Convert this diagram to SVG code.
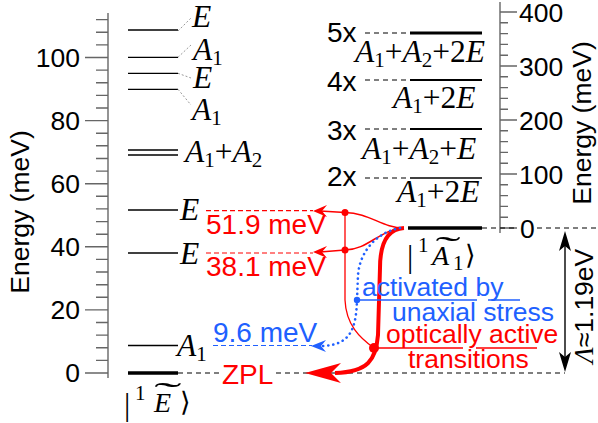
<svg xmlns="http://www.w3.org/2000/svg" width="598" height="423" viewBox="0 0 598 423">
<style>
.ax{stroke:#666;stroke-width:1.4;fill:none}
.lv{stroke:#000;stroke-width:1.3;fill:none}
.gd{stroke:#999;stroke-width:1;stroke-dasharray:2 2;fill:none}
.bd{stroke:#000;stroke-width:1.2;stroke-dasharray:5 4;fill:none}
.rd{stroke:#f00;stroke-width:1.2;stroke-dasharray:5 3;fill:none}
.bld{stroke:#2060ff;stroke-width:1.2;stroke-dasharray:5 3;fill:none}
.t{font-family:"Liberation Sans",Arial,sans-serif;font-size:26.5px;fill:#000}
.v{font-size:28px}
.r{fill:#f00}
.b{fill:#2060ff}
.m{font-family:"Liberation Serif","Times New Roman",serif;font-size:31.5px;fill:#000}
.i{font-style:italic}
.s{font-size:21px;font-style:normal}
.k{font-size:28px}
</style>
<g id="left-axis">
<path class="ax" d="M108,13V378"/>
<path class="ax" d="M85,373H108M96,360.4H108M96,347.8H108M96,335.1H108M96,322.5H108M85,309.9H108M96,297.3H108M96,284.7H108M96,272H108M96,259.4H108M85,246.8H108M96,234.2H108M96,221.6H108M96,208.9H108M96,196.3H108M85,183.7H108M96,171.1H108M96,158.5H108M96,145.8H108M96,133.2H108M85,120.6H108M96,108H108M96,95.4H108M96,82.7H108M96,70.1H108M85,57.5H108M96,44.9H108M96,32.3H108M96,19.6H108"/>
<g class="t" text-anchor="end">
<text x="80" y="66.5">100</text>
<text x="80" y="129.6">80</text>
<text x="80" y="192.7">60</text>
<text x="80" y="255.8">40</text>
<text x="80" y="318.9">20</text>
<text x="80" y="382">0</text>
</g>
<text class="t" text-anchor="middle" transform="translate(29,212) rotate(-90)">Energy (meV)</text>
</g>
<g id="right-axis">
<path class="ax" d="M500,2V233"/>
<path class="ax" d="M500,228H517M500,217.2H508M500,206.4H508M500,195.6H508M500,184.8H508M500,174H517M500,163.2H508M500,152.4H508M500,141.6H508M500,130.8H508M500,120H517M500,109.2H508M500,98.4H508M500,87.6H508M500,76.8H508M500,66H517M500,55.2H508M500,44.4H508M500,33.6H508M500,22.8H508M500,12H517"/>
<g class="t">
<text x="519" y="21.5">400</text>
<text x="519" y="75.5">300</text>
<text x="519" y="129.5">200</text>
<text x="519" y="183.5">100</text>
<text x="520" y="237.5">0</text>
</g>
<text class="t" text-anchor="middle" transform="translate(591,123) rotate(-90)">Energy (meV)</text>
</g>
<g id="ground-E">
<path d="M128,373H178" stroke="#000" stroke-width="3.5"/>
<text class="m" x="124" y="415" font-size="33">|</text>
<text class="m s" x="135" y="400">1</text>
<text class="m i k" x="154" y="412">E</text>
<text class="m" font-size="28" text-anchor="middle" transform="translate(168,404) scale(2.6,1)">˜</text>
<text x="180" y="411" font-family="DejaVu Serif,serif" font-size="27">⟩</text>
</g>
<g id="level-A1-9">
<path class="lv" d="M128,345.5H178"/>
<text class="m" x="177" y="356"><tspan class="i">A</tspan><tspan class="s" dy="5">1</tspan></text>
</g>
<g id="level-E-38">
<path class="lv" d="M128,253H178"/>
<text class="m i" x="180" y="264">E</text>
</g>
<g id="level-E-52">
<path class="lv" d="M128,210H178"/>
<text class="m i" x="180" y="220">E</text>
</g>
<g id="level-A1A2">
<path class="lv" d="M128,150H178M128,155H178"/>
<text class="m" x="185" y="162"><tspan class="i">A</tspan><tspan class="s" dy="5">1</tspan><tspan dy="-5">+</tspan><tspan class="i">A</tspan><tspan class="s" dy="5">2</tspan></text>
</g>
<g id="level-A1-90">
<path class="lv" d="M128,89.3H178"/>
<path class="gd" d="M178,89.3L191,105"/>
<text class="m" x="192" y="120"><tspan class="i">A</tspan><tspan class="s" dy="5">1</tspan></text>
</g>
<g id="level-E-95">
<path class="lv" d="M128,73.3H178"/>
<path class="gd" d="M178,73.3L191,78"/>
<text class="m i" x="193" y="88">E</text>
</g>
<g id="level-A1-100">
<path class="lv" d="M128,57.3H178"/>
<path class="gd" d="M178,57.3L191,45"/>
<text class="m" x="193" y="60"><tspan class="i">A</tspan><tspan class="s" dy="5">1</tspan></text>
</g>
<g id="level-E-109">
<path class="lv" d="M128,30H178"/>
<path class="gd" d="M178,31L191,18"/>
<text class="m i" x="192" y="27">E</text>
</g>
<g id="excited-A1">
<path d="M408,228H482" stroke="#000" stroke-width="3.5"/>
<text class="m" x="407" y="267" font-size="33">|</text>
<text class="m s" x="418" y="252">1</text>
<text class="m i k" x="432" y="265">A</text>
<text class="m" font-size="28" text-anchor="middle" transform="translate(448,258) scale(2.4,1)">˜</text>
<text class="m s" x="453" y="270">1</text>
<text x="465" y="264" font-family="DejaVu Serif,serif" font-size="27">⟩</text>
</g>
<g id="level-5x">
<path class="bd" d="M365,33H410"/>
<path d="M410,33H482" stroke="#000" stroke-width="3"/>
<text class="t v" x="327" y="42">5x</text>
<text class="m" x="355" y="62"><tspan class="i">A</tspan><tspan class="s" dy="5">1</tspan><tspan dy="-5">+</tspan><tspan class="i">A</tspan><tspan class="s" dy="5">2</tspan><tspan dy="-5">+2</tspan><tspan class="i">E</tspan></text>
</g>
<g id="level-4x">
<path class="bd" d="M365,80H410"/>
<path d="M410,80H482" stroke="#000" stroke-width="2"/>
<text class="t v" x="327" y="91">4x</text>
<text class="m" x="393" y="108"><tspan class="i">A</tspan><tspan class="s" dy="5">1</tspan><tspan dy="-5">+2</tspan><tspan class="i">E</tspan></text>
</g>
<g id="level-3x">
<path class="bd" d="M365,129H410"/>
<path d="M410,129H482" stroke="#000" stroke-width="2"/>
<text class="t v" x="327" y="140">3x</text>
<text class="m" x="362" y="159"><tspan class="i">A</tspan><tspan class="s" dy="5">1</tspan><tspan dy="-5">+</tspan><tspan class="i">A</tspan><tspan class="s" dy="5">2</tspan><tspan dy="-5">+</tspan><tspan class="i">E</tspan></text>
</g>
<g id="level-2x">
<path class="bd" d="M365,178H410"/>
<path d="M410,178H482" stroke="#000" stroke-width="1.5"/>
<text class="t v" x="327" y="186">2x</text>
<text class="m" x="397" y="202"><tspan class="i">A</tspan><tspan class="s" dy="5">1</tspan><tspan dy="-5">+2</tspan><tspan class="i">E</tspan></text>
</g>
<g id="connectors">
<path class="bd" d="M482,228H516M537,228H598"/>
<path class="bd" d="M178,373H221M276,373H565"/>
<path d="M565,240V362" stroke="#000" stroke-width="1.4"/>
<path d="M565,231L571,251L565,246L559,251Z" fill="#000"/>
<path d="M565,372L571,352L565,357L559,352Z" fill="#000"/>
<text class="t" text-anchor="middle" transform="translate(593,306) rotate(-90)"><tspan font-family="Liberation Serif,serif" font-style="italic">Λ</tspan>≈1.19eV</text>
<path class="rd" d="M206,210.7H313M206,253H313"/>
<path class="bld" d="M213,345.5H312"/>
<path d="M404,228C382,228 370,213 345,212.5L320,211" stroke="#f00" stroke-width="1.5" fill="none"/>
<path d="M404,228C380,229 368,250 345,250L320,252" stroke="#f00" stroke-width="1.5" fill="none"/>
<path d="M313,211L327,205L322,211L327,217Z" fill="#f00"/>
<path d="M313,252L327,246L322,252L327,258Z" fill="#f00"/>
<path d="M345,212.5V300C346,325 360,338 374,348" stroke="#f00" stroke-width="1.3" fill="none"/>
<path d="M404,228C386,229 380,245 380,268L378,335C376,360 368,372 335,373" stroke="#f00" stroke-width="4" fill="none"/>
<path d="M305,373L341,363L331,373L341,383Z" fill="#f00"/>
<circle cx="345" cy="212.5" r="3.5" fill="#f00"/>
<circle cx="345" cy="250" r="3.5" fill="#f00"/>
<circle cx="374" cy="348" r="5" fill="#f00"/>
<path d="M400,228C378,232 360,250 358,275L357,300C356,330 350,345 322,346" stroke="#2060ff" stroke-width="2.6" stroke-linecap="round" stroke-dasharray="0.1 5" fill="none"/>
<path d="M311,346L326,340L321,346L326,352Z" fill="#2060ff"/>
<circle cx="357" cy="300" r="3.2" fill="#2060ff"/>
<path d="M357,300H477M488,300H520" stroke="#2060ff" stroke-width="1.5"/>
<path d="M374,348H463M476,348H537" stroke="#f00" stroke-width="1.5"/>
</g>
<g id="labels">
<text class="t v r" x="206" y="234">51.9 meV</text>
<text class="t v r" x="206" y="276">38.1 meV</text>
<text class="t v b" x="213" y="342">9.6 meV</text>
<text class="t v r" x="222" y="384">ZPL</text>
<text class="t b" x="362" y="296">activated by</text>
<text class="t b" x="392" y="321">unaxial stress</text>
<text class="t r" x="386" y="343">optically active</text>
<text class="t r" x="408" y="368">transitions</text>
</g>
</svg>
